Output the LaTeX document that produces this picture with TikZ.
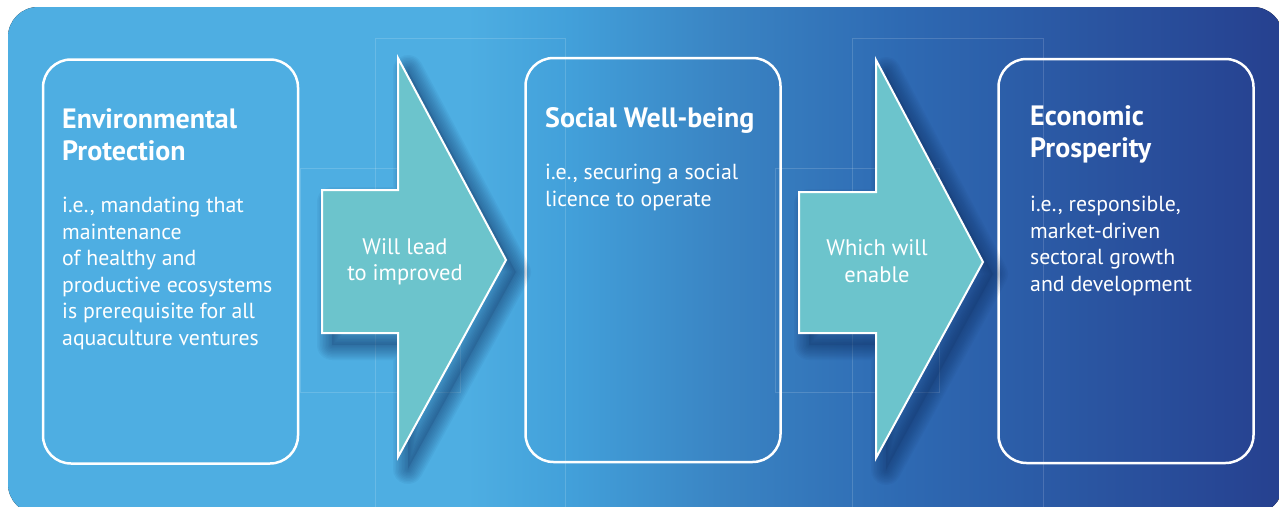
\documentclass[tikz,border=0pt]{standalone}
\usepackage{fontspec}
\setmainfont{PT Sans}

\definecolor{seaLight}{HTML}{4EAEE2}
\definecolor{seaMid}{HTML}{42A0DA}
\definecolor{seaSteel}{HTML}{3A84C3}
\definecolor{seaCobalt}{HTML}{2E6AB3}
\definecolor{seaNavy}{HTML}{26408F}
\definecolor{arrowTeal}{HTML}{6CC4CC}
\definecolor{shadeInk}{HTML}{0E2A5A}

\pgfdeclarehorizontalshading{seaband}{100bp}{color(0bp)=(seaLight); color(25bp)=(seaLight);
  color(43bp)=(seaLight); color(47bp)=(seaMid); color(53bp)=(seaSteel);
  color(60bp)=(seaCobalt); color(75bp)=(seaNavy); color(100bp)=(seaNavy)}

\tikzset{
  pillar/.style={draw=white, line width=2.5pt, rounded corners=28pt,
    minimum width=255pt, minimum height=404pt, inner sep=0pt},
  shadering/.style={draw=shadeInk, opacity=0.05, line join=round},
  flowarrow/.style={fill=arrowTeal, draw=white, line width=2pt},
  heading/.style={anchor=north west, inner sep=0pt, align=left, text=white,
    font=\fontsize{28}{32}\selectfont\bfseries},
  detail/.style={anchor=north west, inner sep=0pt, align=left, text=white,
    font=\fontsize{21.8}{26.5}\selectfont},
  cue/.style={inner sep=0pt, align=center, text=white,
    font=\fontsize{22.5}{26.5}\selectfont},
  guide/.style={draw=white, draw opacity=0.15, line width=0.6pt}
}

\newcommand{\leadshape}{(322,190) -- (398,190) -- (398,58) -- (506,260)
  -- (398,457) -- (398,333) -- (322,333) -- cycle}
\newcommand{\enableshape}{(799,192) -- (876,192) -- (876,60) -- (983,262)
  -- (876,458) -- (876,333) -- (799,333) -- cycle}

\begin{document}
\begin{tikzpicture}[x=1pt, y=-1pt]

    \useasboundingbox (0,0) rectangle (1279,506);
    \clip (0,0) rectangle (1279,506);

    % Backdrop
    \fill[shading=seaband, rounded corners=30pt] (8,7) rectangle (1283,514);
    \draw[guide] (375,38) rectangle (565,520);
    \draw[guide] (300,168) rectangle (460,392);
    \draw[guide] (852,38) rectangle (1043,520);
    \draw[guide] (775,168) rectangle (939,392);

    % Pillars
    \node[pillar] (env) at (170.5,261.5) {};
    \node[pillar] (soc) at (653,260) {};
    \node[pillar] (eco) at (1126,261) {};

    % Arrow shadows
    \begin{scope}[shift={(10,12)}]
        \foreach \w in {3,6,...,30} {
            \draw[shadering, line width=\w pt] \leadshape;
            \draw[shadering, line width=\w pt] \enableshape;
        }
        \fill[shadeInk, opacity=0.15] \leadshape;
        \fill[shadeInk, opacity=0.15] \enableshape;
    \end{scope}

    % Arrows
    \filldraw[flowarrow] \leadshape;
    \filldraw[flowarrow] \enableshape;
    \node[cue] (lead) at (405,262) {Will lead\\to improved};
    \node[cue] (enable) at (877,261) {Which will\\enable};

    % Texts
    \node[heading] (envhead) at (62,108) {Environmental\\Protection};
    \node[detail] (envtext) at (62,197) {i.e., mandating that\\maintenance\\of healthy and\\productive ecosystems\\is prerequisite for all\\aquaculture ventures};
    \node[heading] (sochead) at (545,107) {Social Well-being};
    \node[detail] (soctext) at (545,164) {i.e., securing a social\\licence to operate};
    \node[heading] (ecohead) at (1030,105) {Economic\\Prosperity};
    \node[detail] (ecotext) at (1030,196) {i.e., responsible,\\market-driven\\sectoral growth\\and development};

\end{tikzpicture}
\end{document}
